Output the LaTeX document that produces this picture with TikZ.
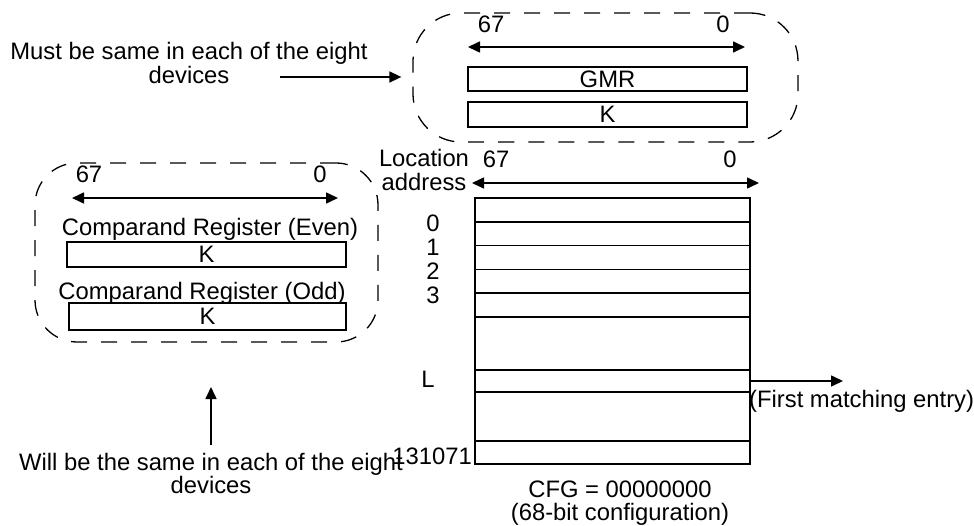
\documentclass[tikz,border=0pt]{standalone}
\usepackage{fontspec}
\setmainfont{Liberation Sans}
\usetikzlibrary{arrows.meta}

\tikzset{
  reg/.style={draw=black, line width=1.6pt, minimum width=279pt, minimum height=25pt, inner sep=0pt},
  cell/.style={draw=black, line width=1.6pt, minimum width=275pt, inner sep=0pt},
  grp/.style={draw=black, line width=1.3pt, dash pattern=on 16pt off 14pt, inner sep=0pt},
  arr/.style={line width=1.6pt, -{Triangle[length=12pt,width=11pt]}},
  darr/.style={line width=1.6pt, {Triangle[length=12pt,width=11pt]}-{Triangle[length=12pt,width=11pt]}},
  lbl/.style={inner sep=0pt, align=center},
}

\begin{document}
\begin{tikzpicture}[x=1pt, y=-1pt, font=\fontsize{23.8}{23.5}\selectfont]
    \useasboundingbox (0,0) rectangle (974,526);

    % mask registers, same in all devices
    \node[grp, rounded corners=48pt, minimum width=385pt, minimum height=129pt] (topgrp) at (605.5, 77.5) {};
    \node[lbl] (top67) at (491, 24) {67};
    \node[lbl] (top0)  at (723, 24) {0};
    \coordinate (topl) at (468, 47);
    \coordinate (topr) at (745, 47);
    \draw[darr] (topl) -- (topr);
    \node[reg, minimum height=24pt] (gmr) at (607.5, 79) {GMR};
    \node[reg] (topk) at (607.5, 114.5) {K};

    \node[lbl] (must) at (189, 63) {Must be same in each of the eight\\devices};
    \coordinate (musttail) at (280, 77);
    \draw[arr, shorten >=11pt] (musttail) -- (musttail -| topgrp.west);

    % comparand registers
    \node[grp, rounded corners=42pt, minimum width=343pt, minimum height=179pt] (leftgrp) at (206.5, 252.5) {};
    \node[lbl] (left67) at (89, 174) {67};
    \node[lbl] (left0)  at (320, 174) {0};
    \coordinate (leftl) at (72, 198);
    \coordinate (leftr) at (338, 198);
    \draw[darr] (leftl) -- (leftr);
    \node[lbl] (even) at (210, 229) {Comparand Register (Even)};
    \node[reg] (evenk) at (206.5, 254.5) {K};
    \node[lbl] (odd) at (202, 293) {Comparand Register (Odd)};
    \node[reg, minimum width=277pt, minimum height=27pt] (oddk) at (207.5, 316.5) {K};

    \node[lbl] (will) at (211, 473.5) {Will be the same in each of the eight\\devices};
    \coordinate (willtail) at (211, 445);
    \coordinate (willtip) at (211, 387);
    \draw[arr] (willtail) -- (willtip);

    % CAM array
    \node[lbl] (loc) at (424, 170) {Location\\address};
    \node[lbl] (tab67) at (496, 159.5) {67};
    \node[lbl] (tab0)  at (730, 159.5) {0};
    \coordinate (tabl) at (472, 183);
    \coordinate (tabr) at (759, 183);
    \draw[darr] (tabl) -- (tabr);

    \foreach \i in {0,...,4}
        \node[cell, minimum height=23.8pt] (row\i) at (612.5, {209.9 + 23.8*\i}) {};
    \node[cell, minimum height=53pt] (gapa) at (612.5, 343.5) {};
    \node[cell, minimum height=22pt] (rowl) at (612.5, 381) {};
    \node[cell, minimum height=49pt] (gapb) at (612.5, 416.5) {};
    \node[cell, minimum height=23pt] (rowlast) at (612.5, 452.5) {};

    \foreach \i in {0,...,3}
        \node[lbl] (addr\i) at (433, {223 + 24.2*\i}) {\i};
    \node[lbl] (addrl) at (428, 379) {L};
    \node[lbl, anchor=east] (addrlast) at (472, 456) {131071};

    \coordinate (firsttip) at (843, 381);
    \draw[arr] (rowl.east) -- (firsttip);
    \node[lbl, anchor=west] (first) at (749, 401) {(First matching entry)};

    \node[lbl] (cfg) at (620, 503) {CFG = 00000000\\(68-bit configuration)};
\end{tikzpicture}
\end{document}
